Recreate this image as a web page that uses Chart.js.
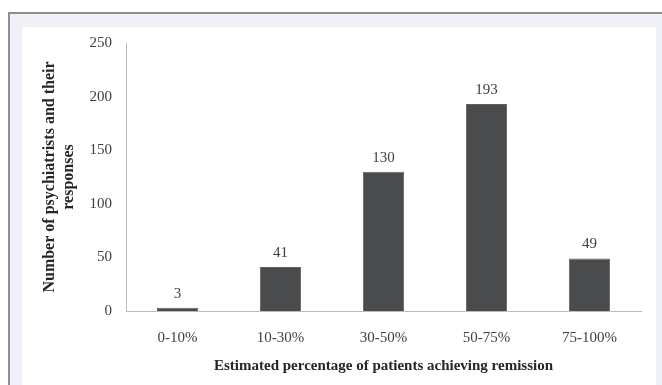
<!DOCTYPE html>
<html>
<head>
<meta charset="utf-8">
<script src="https://cdn.jsdelivr.net/npm/chart.js@4/dist/chart.umd.min.js"></script>
<style>
  html, body { margin: 0; padding: 0; background: #ffffff; }
  body { width: 662px; height: 385px; position: relative; overflow: hidden; }
  #frame {
    position: absolute; left: 8px; top: 12px; width: 660px; height: 380px;
    border-top: 2px solid #8e8e8e; border-left: 2px solid #8e8e8e;
    background: #f0f1f7;
  }
  #panel {
    position: absolute; left: 22px; top: 27px; width: 634px; height: 360px;
    background: #ffffff;
  }
  #wrap { position: absolute; left: 0; top: 0; width: 662px; height: 385px; }
  #chart { display: block; }
</style>
</head>
<body>
<div id="frame"></div>
<div id="panel"></div>
<div id="wrap"><canvas id="chart" width="662" height="385"></canvas></div>
<script>
// Survey responses per estimated remission band
const categories = ['0-10%', '10-30%', '30-50%', '50-75%', '75-100%'];
const responses = [3, 41, 130, 193, 49];
const yTicks = [0, 50, 100, 150, 200, 250];

const yTitle = ['Number of psychiatrists and their', 'responses'];
const xTitle = 'Estimated percentage of patients achieving remission';

const serif = "'Liberation Serif', 'Times New Roman', serif";

// Writes each bar's value above it
const valueLabels = {
  id: 'valueLabels',
  afterDatasetsDraw(chart) {
    const ctx = chart.ctx;
    const meta = chart.getDatasetMeta(0);
    ctx.save();
    ctx.font = '15px ' + serif;
    ctx.fillStyle = '#404040';
    ctx.textAlign = 'center';
    ctx.textBaseline = 'middle';
    meta.data.forEach((bar, i) => {
      ctx.fillText(String(responses[i]), bar.x, bar.y - 14);
    });
    ctx.restore();
  }
};

new Chart(document.getElementById('chart'), {
  type: 'bar',
  data: {
    labels: categories,
    datasets: [{
      data: responses,
      backgroundColor: '#4a4b4d',
      borderColor: '#626365',
      borderWidth: 1,
      barPercentage: 0.4,
      categoryPercentage: 1.0
    }]
  },
  options: {
    responsive: false,
    maintainAspectRatio: false,
    animation: false,
    devicePixelRatio: 1,
    layout: { padding: { left: 22, top: 43, right: 21, bottom: 0 } },
    plugins: { legend: { display: false }, tooltip: { enabled: false } },
    scales: {
      x: {
        offset: true,
        grid: { display: false, drawTicks: false },
        border: { display: true, color: '#bcbcbc', width: 1 },
        ticks: { color: '#404040', font: { family: serif, size: 15 }, padding: 18, maxRotation: 0, autoSkip: false },
        title: {
          display: true, text: xTitle, color: '#262626',
          font: { family: serif, size: 15, weight: 'bold', lineHeight: 1.2 },
          padding: { top: 0, bottom: 10 }
        },
        afterFit(scale) { scale.height = 74; }
      },
      y: {
        min: 0, max: 250,
        grid: { display: false, drawTicks: false },
        border: { display: true, color: '#bcbcbc', width: 1 },
        afterBuildTicks(scale) { scale.ticks = yTicks.map(v => ({ value: v })); },
        ticks: { color: '#404040', font: { family: serif, size: 15 }, padding: 14 },
        title: {
          display: true, text: yTitle, color: '#262626',
          font: { family: serif, size: 16, weight: 'bold', lineHeight: 1.2 },
          padding: { top: 18, bottom: 0 }
        },
        afterFit(scale) { scale.width = 104; }
      }
    }
  },
  plugins: [valueLabels]
});
</script>
</body>
</html>
